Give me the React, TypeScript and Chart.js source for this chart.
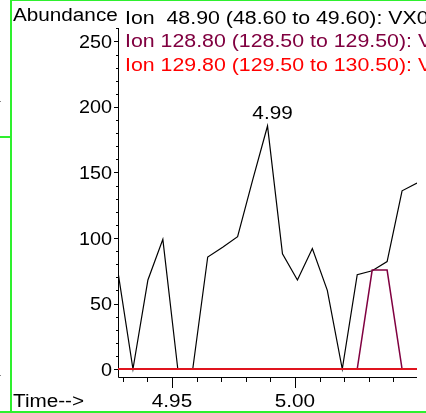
import React, { useEffect, useRef } from "react";
import { Chart, registerables } from "chart.js";

Chart.register(...registerables);

const times = [
  4.92805, 4.93413, 4.94021, 4.94628, 4.95236, 4.95844, 4.96452, 4.9706, 4.97667, 4.98275, 4.98883,
  4.99491, 5.00099, 5.00706, 5.01314, 5.01922, 5.0253, 5.03138, 5.03745, 5.04353, 5.04961,
];
const ion489 = [74, 0, 68, 99, 0, 0, 85.5, 93, 101, 144, 185.5, 88, 68, 92, 60, 0, 72, 75, 82, 136, 142];
const ion1288 = [0, 0, 0, 0, 0, 0, 0, 0, 0, 0, 0, 0, 0, 0, 0, 0, 0, 75.5, 75.5, 0, 0];
const ion1298 = [0, 0, 0, 0, 0, 0, 0, 0, 0, 0, 0, 0, 0, 0, 0, 0, 0, 0, 0, 0, 0];

const legendLabels = [
  "Ion  48.90 (48.60 to 49.60): VX0",
  "Ion 128.80 (128.50 to 129.50): VX0",
  "Ion 129.80 (129.50 to 130.50): VX0",
];
const seriesColors = ["#000000", "#800040", "#ff0000"];
const yTickLabels = [0, 50, 100, 150, 200, 250];
const yMinorStep = 10;
const yMinorMax = 260;
const xTickLabels = ["4.95", "5.00"];
const xMinorTicks = [4.93, 4.94, 4.95, 4.96, 4.97, 4.98, 4.99, 5.0, 5.01, 5.02, 5.03, 5.04];

const FONT = "18px 'Liberation Sans', Arial, Helvetica, sans-serif";
const STRETCH = 1.15;
const GREEN = "#2ef02e";

function drawText(ctx: CanvasRenderingContext2D, text: string, x: number, y: number, align: CanvasTextAlign, color: string, stretch = STRETCH) {
  ctx.save();
  ctx.translate(x, y);
  ctx.scale(stretch, 1);
  ctx.font = FONT;
  ctx.fillStyle = color;
  ctx.textAlign = align;
  ctx.textBaseline = "alphabetic";
  ctx.fillText(text, 0, 0);
  ctx.restore();
}

const decorPlugin = {
  id: "decor",
  beforeDatasetsDraw(chart: any) {
    const ctx: CanvasRenderingContext2D = chart.ctx;
    const xs = chart.scales.x;
    const ys = chart.scales.y;
    const area = chart.chartArea;
    ctx.save();
    ctx.strokeStyle = "#000";
    ctx.lineWidth = 1;
    ctx.beginPath();
    ctx.moveTo(area.left + 0.5, area.top);
    ctx.lineTo(area.left + 0.5, area.bottom + 0.5);
    ctx.lineTo(area.right, area.bottom + 0.5);
    ctx.stroke();
    for (let v = 0; v <= yMinorMax; v += yMinorStep) {
      const y = Math.round(ys.getPixelForValue(v)) + 0.5;
      const major = yTickLabels.includes(v);
      ctx.beginPath();
      ctx.moveTo(area.left, y);
      ctx.lineTo(area.left - (major ? 4 : 2), y);
      ctx.stroke();
    }
    for (const t of xMinorTicks) {
      const x = Math.round(xs.getPixelForValue(t)) + 0.5;
      const major = xTickLabels.includes(t.toFixed(2));
      ctx.beginPath();
      ctx.moveTo(x, area.bottom);
      ctx.lineTo(x, area.bottom + (major ? 11 : 5));
      ctx.stroke();
    }
    ctx.restore();
  },
  afterDraw(chart: any) {
    const ctx: CanvasRenderingContext2D = chart.ctx;
    const xs = chart.scales.x;
    const ys = chart.scales.y;
    const area = chart.chartArea;
    for (const v of yTickLabels) {
      drawText(ctx, String(v), area.left - 6, ys.getPixelForValue(v) + 6.5, "right", "#000", 1.1);
    }
    for (const l of xTickLabels) {
      drawText(ctx, l, xs.getPixelForValue(parseFloat(l)), 407, "center", "#000");
    }
    drawText(ctx, "Time-->", 13, 407, "left", "#000");
    drawText(ctx, "Abundance", 13, 21, "left", "#000");
    legendLabels.forEach((l, i) => {
      drawText(ctx, l, 125, 23.5 + i * 23.7, "left", seriesColors[i], 1.185);
    });
    let pi = 0;
    ion489.forEach((v, i) => {
      if (v > ion489[pi]) pi = i;
    });
    drawText(ctx, times[pi].toFixed(2), xs.getPixelForValue(times[pi]) + 5, ys.getPixelForValue(ion489[pi]) - 7, "center", "#000");
    ctx.save();
    ctx.fillStyle = GREEN;
    ctx.fillRect(10, 0, 2, 412);
    ctx.fillRect(11, 0, 415, 1);
    ctx.fillRect(0, 411, 426, 2);
    ctx.fillRect(0, 136, 11, 2);
    ctx.fillStyle = "#888";
    ctx.fillRect(0, 101, 1, 1);
    ctx.fillRect(0, 375, 1, 1);
    ctx.restore();
  },
};

export default function App() {
  const ref = useRef<HTMLCanvasElement>(null);
  useEffect(() => {
    if (!ref.current) return;
    const mk = (vals: number[]) => times.map((t, i) => ({ x: t, y: vals[i] }));
    const chart = new Chart(ref.current, {
      type: "line",
      data: {
        datasets: [
          { label: legendLabels[0], data: mk(ion489), borderColor: seriesColors[0], borderWidth: 1.2, order: 2 },
          { label: legendLabels[1], data: mk(ion1288), borderColor: seriesColors[1], borderWidth: 1.5, order: 1 },
          { label: legendLabels[2], data: mk(ion1298), borderColor: "#e0141e", borderWidth: 2, order: 0 },
        ],
      },
      options: {
        animation: false,
        responsive: false,
        devicePixelRatio: 1,
        layout: { padding: { left: 118, top: 28, right: 9, bottom: 36 } },
        elements: { point: { radius: 0 }, line: { tension: 0 } },
        plugins: { legend: { display: false }, tooltip: { enabled: false } },
        scales: {
          x: { type: "linear", min: 4.92805, max: 5.0496, display: false },
          y: { type: "linear", min: -6.1, max: 260.3, display: false },
        },
      },
      plugins: [decorPlugin],
    });
    return () => chart.destroy();
  }, []);
  return (
    <div style={{ position: "fixed", left: 0, top: 0, width: 426, height: 413, background: "#fff" }}>
      <canvas ref={ref} width={426} height={413} style={{ display: "block" }} />
    </div>
  );
}
